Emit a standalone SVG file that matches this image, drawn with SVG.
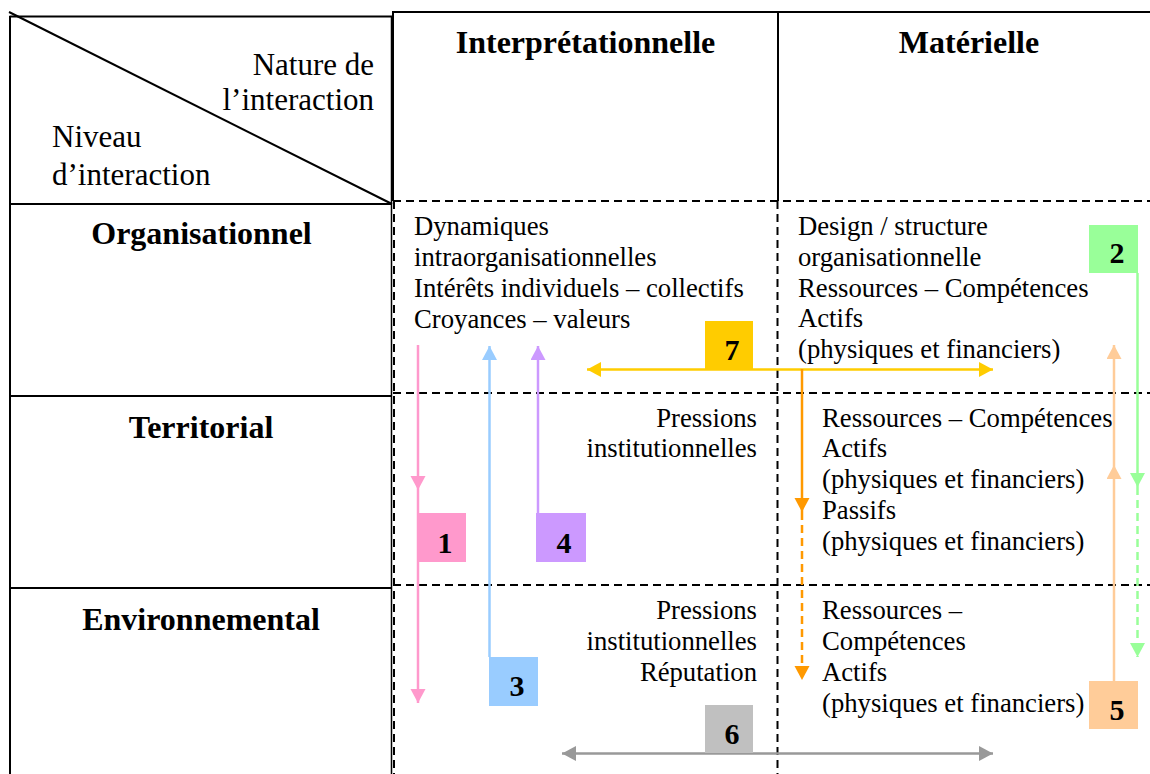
<svg xmlns="http://www.w3.org/2000/svg" width="1150" height="774" viewBox="0 0 1150 774">
<style>
.solid{stroke:#000;stroke-width:2;fill:none}
.thin{stroke:#000;stroke-width:1.5;fill:none}
.dash{stroke:#000;stroke-width:2;fill:none;stroke-dasharray:8 5}
.t{font-family:"Liberation Serif","Times New Roman",serif;font-size:26.7px;fill:#000}
.h{font-family:"Liberation Serif","Times New Roman",serif;font-size:31px;fill:#000}
.b{font-family:"Liberation Serif","Times New Roman",serif;font-size:32px;font-weight:bold;fill:#000;text-anchor:middle}
.n{font-family:"Liberation Serif","Times New Roman",serif;font-size:30px;font-weight:bold;fill:#000;text-anchor:middle}
.end{text-anchor:end}
.a{fill:none;stroke-width:2.5}
.ad{fill:none;stroke-width:2.5;stroke-dasharray:8 5}
</style>
<defs>
<marker id="mPink" markerUnits="userSpaceOnUse" markerWidth="16" markerHeight="16" refX="14" refY="7.5" orient="auto"><path d="M0,0 L14,7.5 L0,15 z" fill="#FF99CC"/></marker>
<marker id="mBlue" markerUnits="userSpaceOnUse" markerWidth="16" markerHeight="16" refX="14" refY="7.5" orient="auto"><path d="M0,0 L14,7.5 L0,15 z" fill="#99CCFF"/></marker>
<marker id="mPurple" markerUnits="userSpaceOnUse" markerWidth="16" markerHeight="16" refX="14" refY="7.5" orient="auto"><path d="M0,0 L14,7.5 L0,15 z" fill="#CC99FF"/></marker>
<marker id="mYellow" markerUnits="userSpaceOnUse" markerWidth="16" markerHeight="16" refX="14" refY="7.5" orient="auto-start-reverse"><path d="M0,0 L14,7.5 L0,15 z" fill="#FFCC00"/></marker>
<marker id="mOrange" markerUnits="userSpaceOnUse" markerWidth="16" markerHeight="16" refX="14" refY="7.5" orient="auto"><path d="M0,0 L14,7.5 L0,15 z" fill="#FF9900"/></marker>
<marker id="mGray" markerUnits="userSpaceOnUse" markerWidth="16" markerHeight="16" refX="14" refY="7.5" orient="auto-start-reverse"><path d="M0,0 L14,7.5 L0,15 z" fill="#999999"/></marker>
<marker id="mGreen" markerUnits="userSpaceOnUse" markerWidth="16" markerHeight="16" refX="14" refY="7.5" orient="auto"><path d="M0,0 L14,7.5 L0,15 z" fill="#99FF99"/></marker>
<marker id="mPeach" markerUnits="userSpaceOnUse" markerWidth="16" markerHeight="16" refX="14" refY="7.5" orient="auto"><path d="M0,0 L14,7.5 L0,15 z" fill="#FFCC99"/></marker>
</defs>
<rect x="0" y="0" width="1150" height="774" fill="#fff"/>
<g id="table">
<line class="solid" x1="9.5" y1="16.5" x2="392" y2="16.5"/>
<line class="solid" x1="10" y1="16" x2="10" y2="774"/>
<line class="solid" x1="9" y1="12" x2="392" y2="204"/>
<line class="solid" x1="10" y1="204" x2="392" y2="204"/>
<line class="solid" x1="10" y1="396" x2="392" y2="396"/>
<line class="solid" x1="10" y1="588" x2="392" y2="588"/>
<line class="thin" x1="391.5" y1="16" x2="391.5" y2="774"/>
<line class="solid" x1="393" y1="12" x2="1150" y2="12"/>
<line class="solid" x1="393" y1="11" x2="393" y2="201"/>
<line class="solid" x1="778" y1="11" x2="778" y2="201"/>
<line class="dash" x1="393" y1="201" x2="1150" y2="201"/>
<line class="dash" x1="393" y1="393" x2="1150" y2="393"/>
<line class="dash" x1="393" y1="585" x2="1150" y2="585"/>
<line class="dash" x1="394" y1="201" x2="394" y2="774"/>
<line class="dash" x1="777.5" y1="201" x2="777.5" y2="774"/>
</g>
<g id="labels">
<text class="h end" x="374" y="75">Nature de</text>
<text class="h end" x="374" y="110">l’interaction</text>
<text class="h" x="52" y="147">Niveau</text>
<text class="h" x="52" y="185">d’interaction</text>
<text class="b" x="585.5" y="53">Interprétationnelle</text>
<text class="b" x="969" y="53">Matérielle</text>
<text class="b" x="201.5" y="244">Organisationnel</text>
<text class="b" x="201" y="438">Territorial</text>
<text class="b" x="201" y="630">Environnemental</text>
</g>
<g id="cells">
<text class="t" x="414" y="235">Dynamiques</text>
<text class="t" x="414" y="266">intraorganisationnelles</text>
<text class="t" x="414" y="297">Intérêts individuels – collectifs</text>
<text class="t" x="414" y="328">Croyances – valeurs</text>
<text class="t" x="798" y="235">Design / structure</text>
<text class="t" x="798" y="266">organisationnelle</text>
<text class="t" x="798" y="297">Ressources – Compétences</text>
<text class="t" x="798" y="327">Actifs</text>
<text class="t" x="798" y="358">(physiques et financiers)</text>
<text class="t end" x="757" y="427">Pressions</text>
<text class="t end" x="757" y="457">institutionnelles</text>
<text class="t" x="822" y="427">Ressources – Compétences</text>
<text class="t" x="822" y="457">Actifs</text>
<text class="t" x="822" y="488">(physiques et financiers)</text>
<text class="t" x="822" y="519">Passifs</text>
<text class="t" x="822" y="550">(physiques et financiers)</text>
<text class="t end" x="757" y="619">Pressions</text>
<text class="t end" x="757" y="650">institutionnelles</text>
<text class="t end" x="757" y="681">Réputation</text>
<text class="t" x="822" y="619">Ressources –</text>
<text class="t" x="822" y="650">Compétences</text>
<text class="t" x="822" y="681">Actifs</text>
<text class="t" x="822" y="712">(physiques et financiers)</text>
</g>
<g id="connectors">
<line class="a" stroke="#FF99CC" x1="418" y1="345" x2="418" y2="490" marker-end="url(#mPink)"/>
<line class="a" stroke="#FF99CC" x1="418" y1="490" x2="418" y2="703" marker-end="url(#mPink)"/>
<line class="a" stroke="#99CCFF" x1="489.5" y1="657" x2="489.5" y2="346" marker-end="url(#mBlue)"/>
<line class="a" stroke="#CC99FF" x1="538" y1="513" x2="538" y2="346" marker-end="url(#mPurple)"/>
<line class="a" stroke="#FFCC00" x1="587" y1="369.5" x2="993" y2="369.5" marker-start="url(#mYellow)" marker-end="url(#mYellow)"/>
<line class="a" stroke="#FF9900" x1="802" y1="369" x2="802" y2="512" marker-end="url(#mOrange)"/>
<line class="ad" stroke="#FF9900" x1="802" y1="512" x2="802" y2="680" marker-end="url(#mOrange)"/>
<line class="a" stroke="#999999" x1="562" y1="753.5" x2="993" y2="753.5" marker-start="url(#mGray)" marker-end="url(#mGray)"/>
<line class="a" stroke="#99FF99" x1="1137.5" y1="273" x2="1137.5" y2="487" marker-end="url(#mGreen)"/>
<line class="ad" stroke="#99FF99" x1="1137.5" y1="487" x2="1137.5" y2="657" marker-end="url(#mGreen)"/>
<line class="a" stroke="#FFCC99" x1="1114" y1="681" x2="1114" y2="465" marker-end="url(#mPeach)"/>
<line class="a" stroke="#FFCC99" x1="1114" y1="465" x2="1114" y2="345" marker-end="url(#mPeach)"/>
</g>
<g id="node1"><rect x="417" y="513" width="49" height="49" fill="#FF99CC"/><text class="n" x="445" y="553">1</text></g>
<g id="node2"><rect x="1089" y="225" width="49" height="48" fill="#99FF99"/><text class="n" x="1117" y="263">2</text></g>
<g id="node3"><rect x="489" y="657" width="49" height="49" fill="#99CCFF"/><text class="n" x="517" y="696">3</text></g>
<g id="node4"><rect x="536" y="513" width="50" height="49" fill="#CC99FF"/><text class="n" x="564" y="553">4</text></g>
<g id="node5"><rect x="1089" y="681" width="49" height="48" fill="#FFCC99"/><text class="n" x="1117" y="720">5</text></g>
<g id="node6"><rect x="705" y="705" width="48" height="48" fill="#C0C0C0"/><text class="n" x="732" y="744">6</text></g>
<g id="node7"><rect x="705" y="321" width="48" height="48" fill="#FFCC00"/><text class="n" x="732" y="360">7</text></g>
</svg>
